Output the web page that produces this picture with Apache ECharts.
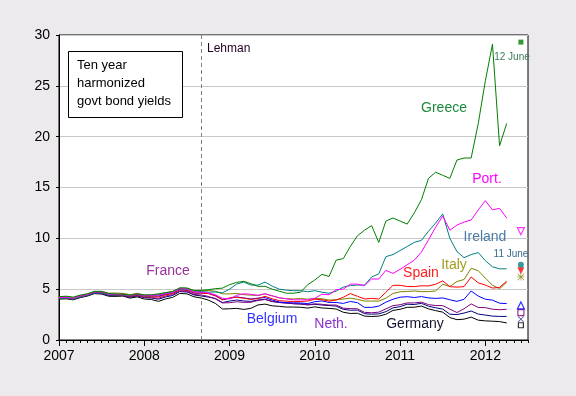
<!DOCTYPE html>
<html><head><meta charset="utf-8">
<script src="https://cdn.jsdelivr.net/npm/echarts@6/dist/echarts.min.js"></script>
<style>html,body{margin:0;padding:0;background:#eceaec;}#c{width:576px;height:396px;}</style>
</head><body><div id="c"></div>
<script>
// Monthly data, Jan 2007 (index 0) .. Apr 2012 (index 63)
const yearLabels = ['2007','2008','2009','2010','2011','2012'];
const greece = [4.26,4.31,4.22,4.42,4.55,4.79,4.78,4.57,4.53,4.52,4.40,4.54,
  4.44,4.45,4.54,4.66,4.78,5.14,5.12,4.88,4.88,4.95,5.05,5.10,
  5.44,5.67,5.77,5.54,5.28,5.28,5.00,4.80,4.60,4.60,4.70,5.44,
  5.90,6.46,6.24,7.85,8.00,9.20,10.25,10.80,11.25,9.60,11.70,12.00,
  11.70,11.40,12.50,13.80,15.90,16.50,16.20,15.90,17.70,17.90,17.90,21.30,
  25.50,29.10,19.10,21.30];
const portugal = [4.17,4.20,4.11,4.33,4.47,4.74,4.72,4.51,4.50,4.48,4.37,4.50,
  4.39,4.37,4.43,4.56,4.68,5.06,5.01,4.73,4.71,4.62,4.45,4.10,
  4.05,4.40,4.55,4.50,4.40,4.55,4.35,4.15,4.05,3.95,3.95,3.95,
  4.10,4.50,4.45,4.95,5.00,5.50,5.50,5.35,6.00,6.00,6.85,6.55,
  6.95,7.40,7.85,8.65,9.85,11.10,12.20,10.80,11.30,11.60,11.80,12.80,
  13.70,12.80,12.95,12.00];
const ireland = [4.09,4.12,4.02,4.24,4.39,4.64,4.63,4.44,4.43,4.44,4.34,4.49,
  4.33,4.34,4.42,4.58,4.67,5.02,4.99,4.74,4.76,4.71,4.72,4.65,
  5.00,5.50,5.70,5.40,5.40,5.70,5.30,5.00,4.90,4.85,4.85,4.75,
  4.85,4.70,4.60,4.80,5.20,5.35,5.40,5.40,6.20,6.50,8.20,8.40,
  8.80,9.20,9.60,9.80,10.70,11.50,12.40,10.00,8.70,8.10,8.40,8.60,
  7.80,7.20,7.00,7.00];
const spain = [4.10,4.13,4.04,4.26,4.41,4.67,4.66,4.47,4.44,4.43,4.31,4.45,
  4.27,4.25,4.24,4.44,4.57,4.94,4.90,4.63,4.61,4.57,4.33,3.95,
  4.14,4.20,4.11,4.00,4.07,4.30,4.05,3.87,3.82,3.78,3.79,3.83,
  4.01,3.96,3.82,3.94,4.20,4.57,4.30,4.04,4.09,4.03,4.69,5.38,
  5.38,5.26,5.25,5.33,5.32,5.48,5.82,5.25,5.20,5.25,6.20,5.62,
  5.40,5.11,5.17,5.79];
const italy = [4.24,4.26,4.16,4.38,4.51,4.77,4.78,4.61,4.62,4.58,4.46,4.59,
  4.42,4.40,4.49,4.63,4.76,5.07,5.08,4.86,4.84,4.87,4.80,4.54,
  4.53,4.58,4.46,4.41,4.38,4.53,4.34,4.14,4.06,4.04,4.08,4.02,
  4.08,4.06,3.93,3.96,4.03,4.12,4.00,3.83,3.83,3.82,4.11,4.58,
  4.74,4.78,4.82,4.76,4.76,4.82,5.48,5.26,5.75,5.95,7.06,6.81,
  6.08,5.39,5.05,5.68];
const belgium = [4.13,4.16,4.06,4.28,4.43,4.69,4.68,4.48,4.47,4.49,4.34,4.48,
  4.35,4.33,4.32,4.49,4.61,4.95,4.88,4.61,4.62,4.60,4.38,3.97,
  4.09,4.24,4.14,4.03,4.12,4.17,3.93,3.74,3.67,3.66,3.64,3.58,
  3.77,3.84,3.70,3.69,3.60,3.79,3.67,3.21,3.21,3.33,3.72,4.01,
  4.21,4.26,4.18,4.27,4.14,4.09,4.14,3.96,3.80,4.00,4.82,4.32,
  4.01,3.92,3.62,3.58];
const france = [4.10,4.13,4.03,4.25,4.41,4.66,4.64,4.43,4.42,4.42,4.25,4.38,
  4.20,4.16,4.11,4.33,4.47,4.83,4.77,4.48,4.43,4.29,4.04,3.65,
  3.67,3.76,3.70,3.71,3.89,3.99,3.78,3.69,3.63,3.57,3.54,3.48,
  3.56,3.51,3.44,3.44,3.13,3.09,3.07,2.72,2.68,2.74,3.06,3.38,
  3.47,3.65,3.65,3.72,3.48,3.39,3.38,3.04,2.70,3.07,3.55,3.20,
  3.18,3.03,2.98,3.02];
const netherlands = [4.08,4.11,4.01,4.23,4.38,4.62,4.59,4.38,4.37,4.40,4.21,4.33,
  4.16,4.13,4.01,4.23,4.38,4.76,4.72,4.43,4.33,4.22,4.09,3.68,
  3.83,3.93,3.84,3.80,3.93,4.00,3.80,3.69,3.64,3.57,3.54,3.45,
  3.51,3.44,3.39,3.33,3.02,2.93,2.94,2.59,2.54,2.57,2.79,3.16,
  3.28,3.52,3.49,3.61,3.32,3.17,3.04,2.54,2.50,2.65,2.85,2.55,
  2.45,2.35,2.32,2.32];
const germany = [4.02,4.05,3.95,4.17,4.32,4.56,4.52,4.30,4.29,4.32,4.12,4.24,
  4.03,3.98,3.80,4.04,4.19,4.58,4.54,4.25,4.13,3.93,3.60,3.05,
  3.07,3.11,3.01,3.11,3.45,3.53,3.36,3.31,3.24,3.24,3.22,3.14,
  3.26,3.15,3.11,3.05,2.73,2.61,2.63,2.35,2.31,2.35,2.53,2.91,
  3.02,3.22,3.22,3.34,3.06,2.89,2.74,2.21,2.00,2.05,2.25,1.95,
  1.88,1.85,1.81,1.68];
// June 2012 spot values (month index 65)
const juneMonth = 65;
const juneValues = {greece:29.3, portugal:10.7, ireland:7.4, spain:6.8, italy:6.2,
  belgium:3.4, france:2.7, netherlands:2.05, germany:1.45};
const lehmanMonth = 20;

const countries = [
  {key:'germany', data:germany, color:'#000000', sym:'rect', size:5, hollow:true},
  {key:'netherlands', data:netherlands, color:'#000080', sym:'path://M0,0.8 L0.8,0 L5,4.2 L9.2,0 L10,0.8 L5.8,5 L10,9.2 L9.2,10 L5,5.8 L0.8,10 L0,9.2 L4.2,5 Z', size:6, hollow:false},
  {key:'france', data:france, color:'#800080', sym:'rect', size:6, hollow:true},
  {key:'belgium', data:belgium, color:'#0000ff', sym:'triangle', size:7, hollow:true},
  {key:'italy', data:italy, color:'#808000', sym:'path://M4.5,0 L5.5,0 L5.5,10 L4.5,10 Z M0,4.5 L10,4.5 L10,5.5 L0,5.5 Z M0.7,0 L10,9.3 L9.3,10 L0,0.7 Z M9.3,0 L10,0.7 L0.7,10 L0,9.3 Z', size:7, hollow:false},
  {key:'spain', data:spain, color:'#ff0000', sym:'triangle', size:7, hollow:false, rot:180},
  {key:'ireland', data:ireland, color:'#008080', sym:'circle', size:6, hollow:false},
  {key:'portugal', data:portugal, color:'#ff00ff', sym:'triangle', size:7, hollow:true, rot:180},
  {key:'greece', data:greece, color:'#008000', sym:'rect', size:5, hollow:false}
];

const series = [];
countries.forEach((c, ci) => {
  const s = {
    type:'line', name:c.key, xAxisIndex:0, yAxisIndex:0,
    data:c.data.map((v,i)=>[i,v]), showSymbol:false, symbol:'none',
    lineStyle:{color:c.color, width:1}, itemStyle:{color:c.color},
    animation:false, z:2+ci
  };
  if (c.key === 'germany') {
    s.markLine = {silent:true, symbol:'none', label:{show:false},
      lineStyle:{color:'#808080', type:[4,3], width:1},
      data:[{xAxis:lehmanMonth}]};
  }
  series.push(s);
  series.push({
    type:'scatter', name:c.key+'-june', xAxisIndex:0, yAxisIndex:0,
    data:[[juneMonth, juneValues[c.key]]], symbol:c.sym, symbolSize:c.size,
    symbolRotate:c.rot||0,
    itemStyle: c.hollow ? {color:'#ffffff', borderColor:c.color, borderWidth:1.2} : {color:c.color},
    animation:false, z:20
  });
});

const monthCats = [];
for (let i = 0; i <= 66; i++) monthCats.push(String(i));

const labels = [
  ['France', 168, 271, '#993399', 14],
  ['Belgium', 272, 319, '#3333ff', 14],
  ['Neth.', 331, 324, '#8833cc', 14],
  ['Germany', 415, 324, '#151530', 14],
  ['Spain', 421, 273, '#ff2020', 14],
  ['Italy', 454, 265, '#a0a020', 14],
  ['Ireland', 485, 237, '#4a7aa8', 14],
  ['Port.', 487, 179, '#ff00ff', 14],
  ['Greece', 444, 108, '#1a8a3a', 14],
  ['12 June', 512, 57, '#3a7a5a', 10],
  ['11 June', 511, 254, '#3a6a8a', 10]
];
const graphics = labels.map(l => ({
  type:'text', x:l[1], y:l[2], z:100,
  style:{text:l[0], fill:l[3], font:l[4]+'px "Liberation Sans", Arial, sans-serif', textAlign:'center', textVerticalAlign:'middle'}
}));
graphics.push({type:'rect', shape:{x:68.5, y:51.5, width:114, height:66}, style:{fill:'#ffffff', stroke:'#000000', lineWidth:1}, z:100});
['Ten year','harmonized','govt bond yields'].forEach((t,i) => graphics.push({
  type:'text', x:77, y:65+i*18, z:101,
  style:{text:t, fill:'#000000', font:'13px "Liberation Sans", Arial, sans-serif', textAlign:'left', textVerticalAlign:'middle'}
}));
graphics.push({type:'text', x:207, y:49, z:100,
  style:{text:'Lehman', fill:'#220022', font:'12px "Liberation Sans", Arial, sans-serif', textAlign:'left', textVerticalAlign:'middle'}});

const chart = echarts.init(document.getElementById('c'), null, {renderer:'canvas'});
chart.setOption({
  backgroundColor:'#eceaec',
  animation:false,
  grid:{left:59, right:48, top:35, bottom:56, show:true, backgroundColor:'#ffffff', borderColor:'#000000', borderWidth:1},
  xAxis:[
    {type:'value', min:0, max:66, interval:1,
     axisLine:{lineStyle:{color:'#000', width:1}},
     axisTick:{show:false},
     axisLabel:{margin:9, color:'#000', fontSize:14, fontFamily:'"Liberation Sans", Arial, sans-serif',
       formatter:(v)=> (v % 12 === 0 && v/12 < yearLabels.length) ? yearLabels[v/12] : ''},
     splitLine:{show:false}},
    {type:'category', data:monthCats, boundaryGap:false, position:'bottom',
     axisLine:{show:false}, axisLabel:{show:false},
     axisTick:{show:true, length:3, interval:0, lineStyle:{color:'#000'}},
     splitLine:{show:false}},
    {type:'category', data:monthCats, boundaryGap:false, position:'bottom',
     axisLine:{show:false}, axisLabel:{show:false},
     axisTick:{show:true, length:6, interval:11, lineStyle:{color:'#000'}},
     splitLine:{show:false}}
  ],
  yAxis:{type:'value', min:0, max:30, interval:5,
    axisLine:{show:true, lineStyle:{color:'#000'}},
    axisTick:{show:true, length:3, lineStyle:{color:'#000'}},
    axisLabel:{margin:9, color:'#000', fontSize:14, fontFamily:'"Liberation Sans", Arial, sans-serif'},
    splitLine:{show:true, lineStyle:{color:'#c8c8c8', width:1}}},
  series:series,
  graphic:graphics
});
</script></body></html>
